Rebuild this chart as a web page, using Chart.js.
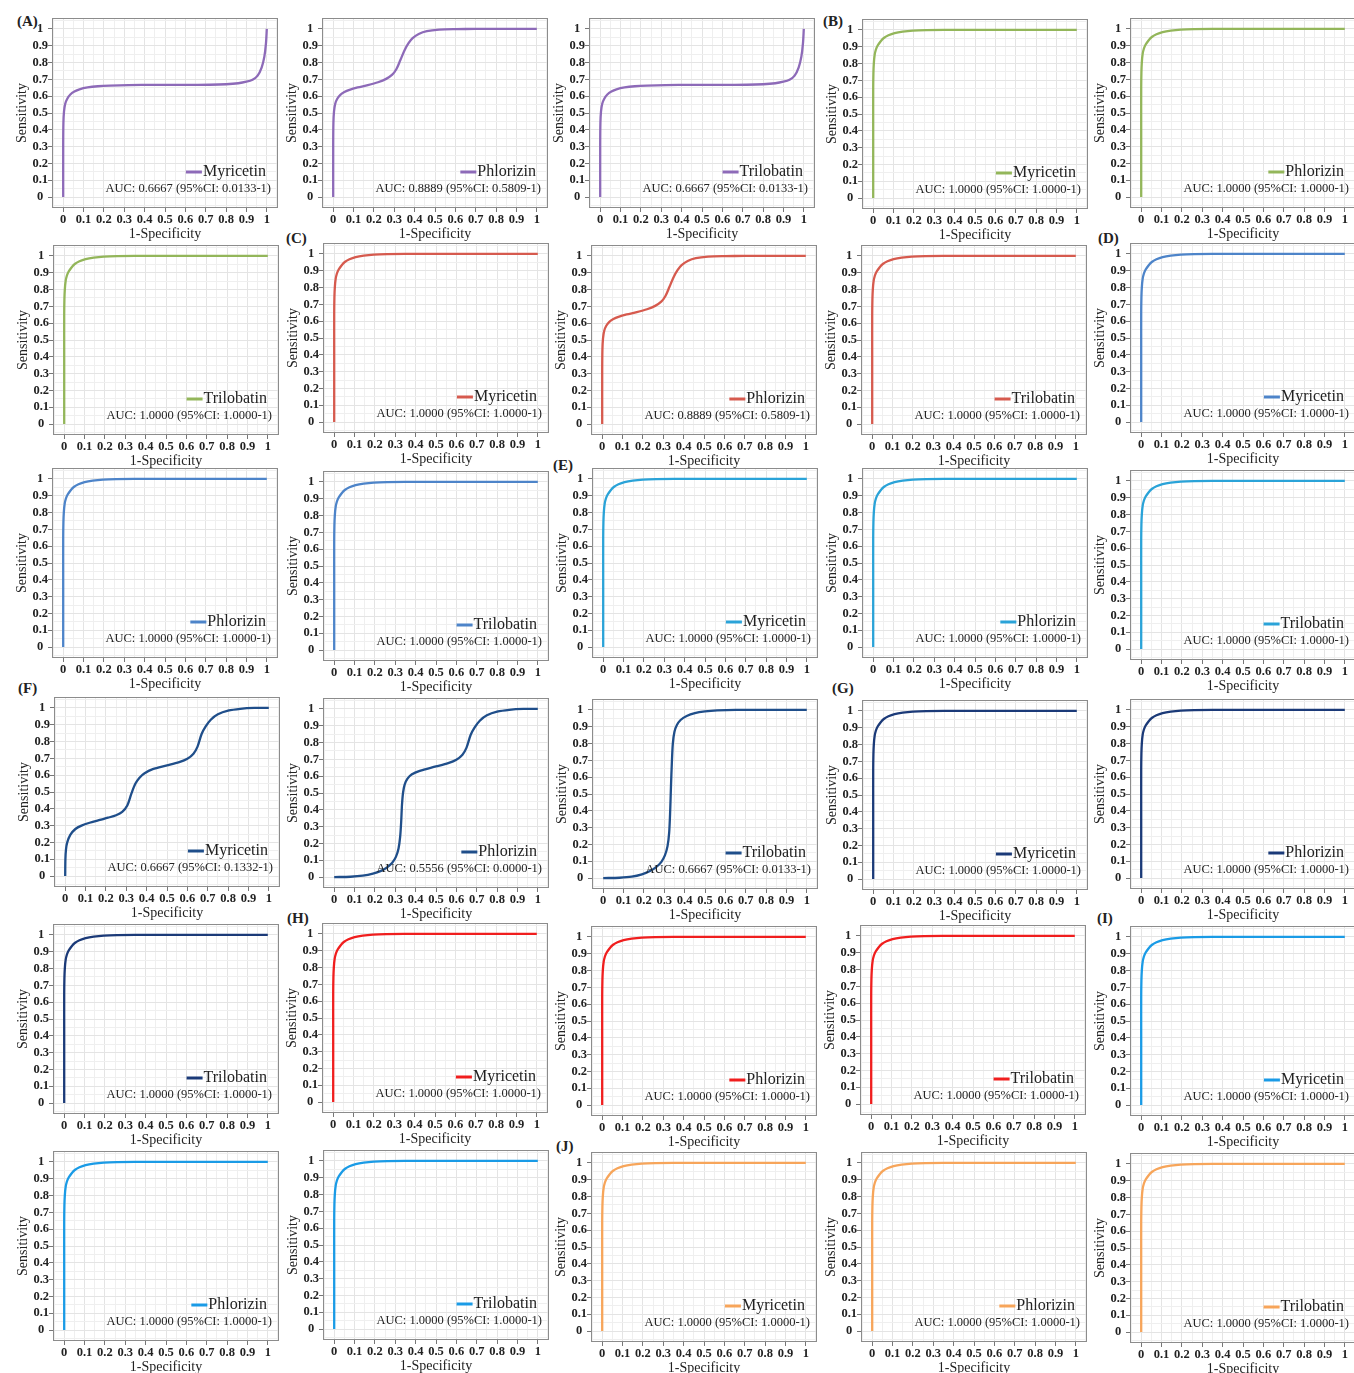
<!DOCTYPE html>
<html>
<head>
<meta charset="utf-8">
<script src="https://cdn.jsdelivr.net/npm/chart.js@4.4.1/dist/chart.umd.min.js"></script>
<style>
  html, body { margin: 0; padding: 0; background: #fff; }
  #fig { position: relative; width: 1354px; height: 1373px; overflow: hidden; background: #fff; }
  #fig canvas { position: absolute; }
  .tag { position: absolute; font: bold 15px "Liberation Serif", "Times New Roman", serif; color: #222; line-height: 1; white-space: nowrap; }
</style>
</head>
<body>
<div id="fig"></div>
<script>
// ---- categories ----
const compounds = ['Myricetin', 'Phlorizin', 'Trilobatin'];
const groups = ['A', 'B', 'C', 'D', 'E', 'F', 'G', 'H', 'I', 'J'];

// ---- AUC and lower 95% CI bound, one per panel (group order, then compound order) ----
const aucValues = [
  0.6667, 0.8889, 0.6667,   // A
  1.0000, 1.0000, 1.0000,   // B
  1.0000, 0.8889, 1.0000,   // C
  1.0000, 1.0000, 1.0000,   // D
  1.0000, 1.0000, 1.0000,   // E
  0.6667, 0.5556, 0.6667,   // F
  1.0000, 1.0000, 1.0000,   // G
  1.0000, 1.0000, 1.0000,   // H
  1.0000, 1.0000, 1.0000,   // I
  1.0000, 1.0000, 1.0000    // J
];
const ciLower = [
  0.0133, 0.5809, 0.0133,
  1.0000, 1.0000, 1.0000,
  1.0000, 0.5809, 1.0000,
  1.0000, 1.0000, 1.0000,
  1.0000, 1.0000, 1.0000,
  0.1332, 0.0000, 0.0133,
  1.0000, 1.0000, 1.0000,
  1.0000, 1.0000, 1.0000,
  1.0000, 1.0000, 1.0000,
  1.0000, 1.0000, 1.0000
];

// ---- smoothed ROC curves (1-specificity, sensitivity) ----
const perfectFpr = [0, 0, 0, 0.001, 0.003, 0.007, 0.013, 0.022, 0.035, 0.052, 0.075, 0.105, 0.145, 0.195, 0.26, 0.35, 0.5, 1];
const perfectTpr = [0, 0.4, 0.65, 0.74, 0.8, 0.85, 0.882, 0.907, 0.93, 0.952, 0.968, 0.981, 0.99, 0.996, 0.999, 1, 1, 1];

const plateauFpr = [0, 0, 0.001, 0.004, 0.01, 0.02, 0.035, 0.055, 0.08, 0.12, 0.17, 0.23, 0.32, 0.45, 0.6, 0.72, 0.8, 0.86, 0.9, 0.93, 0.955, 0.975, 0.988, 0.996, 1];
const plateauTpr = [0, 0.3, 0.44, 0.51, 0.555, 0.585, 0.61, 0.628, 0.641, 0.652, 0.659, 0.663, 0.666, 0.667, 0.667, 0.668, 0.671, 0.677, 0.686, 0.698, 0.722, 0.772, 0.835, 0.915, 1];

const shoulderFpr = [0, 0, 0.001, 0.004, 0.01, 0.02, 0.035, 0.055, 0.08, 0.12, 0.17, 0.22, 0.26, 0.29, 0.31, 0.33, 0.35, 0.37, 0.39, 0.42, 0.46, 0.52, 0.6, 0.7, 1];
const shoulderTpr = [0, 0.3, 0.44, 0.51, 0.555, 0.585, 0.608, 0.625, 0.638, 0.652, 0.666, 0.683, 0.703, 0.728, 0.76, 0.815, 0.872, 0.915, 0.945, 0.97, 0.987, 0.996, 0.999, 1, 1];

const stairFpr = [0, 0.001, 0.004, 0.01, 0.025, 0.05, 0.08, 0.12, 0.17, 0.21, 0.25, 0.28, 0.305, 0.325, 0.345, 0.365, 0.39, 0.43, 0.5, 0.56, 0.6, 0.63, 0.65, 0.67, 0.69, 0.715, 0.75, 0.8, 0.86, 0.93, 1];
const stairTpr = [0, 0.1, 0.16, 0.2, 0.245, 0.28, 0.3, 0.317, 0.334, 0.347, 0.362, 0.382, 0.42, 0.49, 0.55, 0.585, 0.612, 0.636, 0.658, 0.678, 0.698, 0.728, 0.77, 0.845, 0.89, 0.93, 0.962, 0.984, 0.995, 1, 1];

const lateFpr = [0, 0.08, 0.14, 0.19, 0.23, 0.26, 0.285, 0.303, 0.316, 0.324, 0.329, 0.333, 0.338, 0.346, 0.36, 0.38, 0.42, 0.5, 0.56, 0.6, 0.63, 0.65, 0.67, 0.69, 0.715, 0.75, 0.8, 0.86, 0.93, 1];
const lateTpr = [0, 0.002, 0.008, 0.02, 0.037, 0.058, 0.085, 0.12, 0.17, 0.24, 0.33, 0.43, 0.5, 0.55, 0.585, 0.61, 0.632, 0.658, 0.678, 0.698, 0.728, 0.77, 0.845, 0.89, 0.93, 0.962, 0.984, 0.995, 1, 1];

const stepFpr = [0, 0.08, 0.14, 0.19, 0.23, 0.26, 0.285, 0.303, 0.316, 0.324, 0.329, 0.333, 0.337, 0.342, 0.35, 0.362, 0.38, 0.41, 0.45, 0.5, 0.56, 0.65, 1];
const stepTpr = [0, 0.002, 0.008, 0.022, 0.042, 0.065, 0.095, 0.135, 0.19, 0.27, 0.4, 0.55, 0.68, 0.8, 0.87, 0.91, 0.94, 0.964, 0.981, 0.991, 0.997, 1, 1];

// which curve each panel uses
const panelCurve = [
  'plateau', 'shoulder', 'plateau',
  'perfect', 'perfect', 'perfect',
  'perfect', 'shoulder', 'perfect',
  'perfect', 'perfect', 'perfect',
  'perfect', 'perfect', 'perfect',
  'stair', 'late', 'step',
  'perfect', 'perfect', 'perfect',
  'perfect', 'perfect', 'perfect',
  'perfect', 'perfect', 'perfect',
  'perfect', 'perfect', 'perfect'
];

// ---- axis ticks ----
const tickValues = [0, 0.1, 0.2, 0.3, 0.4, 0.5, 0.6, 0.7, 0.8, 0.9, 1];
const tickLabels = ['0', '0.1', '0.2', '0.3', '0.4', '0.5', '0.6', '0.7', '0.8', '0.9', '1'];
const gridValues = [-0.05, 0, 0.05, 0.1, 0.15, 0.2, 0.25, 0.3, 0.35, 0.4, 0.45, 0.5,
                    0.55, 0.6, 0.65, 0.7, 0.75, 0.8, 0.85, 0.9, 0.95, 1, 1.05];

// ---- styling ----
const groupColors = ['#8d6ab8', '#93b65a', '#d65a4e', '#4d84c9', '#2aa3d8',
                     '#1f4e8a', '#1b3a78', '#f01e1e', '#1a9be6', '#f7a55a'];
const serif = '"Liberation Serif", "Times New Roman", serif';

// panel placement: pixel of x=0 and of y=1 for each panel
const originX = [63, 333, 600, 873, 1141, 64, 334, 602, 872, 1141, 63, 334, 603, 873, 1141,
                 65, 334, 603, 873, 1141, 64, 333, 602, 871, 1141, 64, 334, 602, 872, 1141];
const topTickY = [29, 29, 29, 30, 29, 256, 254, 256, 256, 254, 479, 482, 479, 479, 481,
                  708, 709, 710, 711, 710, 935, 934, 937, 936, 937, 1162, 1161, 1163, 1163, 1164];
// group letter placement (left, top)
const tagLeft = [17, 823, 286, 1098, 553, 18, 832, 287, 1097, 556];
const tagTop = [14, 14, 231, 231, 458, 681, 681, 911, 911, 1139];

const curveFpr = { perfect: perfectFpr, plateau: plateauFpr, shoulder: shoulderFpr, stair: stairFpr, late: lateFpr, step: stepFpr };
const curveTpr = { perfect: perfectTpr, plateau: plateauTpr, shoulder: shoulderTpr, stair: stairTpr, late: lateTpr, step: stepTpr };

const near = (a, b) => Math.abs(a - b) < 1e-6;
const majorIndex = v => tickValues.findIndex(t => near(t, v));

// frame, legend key and AUC note inside each panel
const rocNote = {
  id: 'rocNote',
  afterDraw(chart, args, opts) {
    const { ctx, chartArea: a } = chart;
    ctx.save();
    ctx.strokeStyle = '#8c8c8c';
    ctx.lineWidth = 1;
    ctx.strokeRect(a.left + 0.5, a.top + 0.5, a.right - a.left - 1, a.bottom - a.top - 1);

    ctx.fillStyle = '#222';
    ctx.textAlign = 'right';
    ctx.textBaseline = 'middle';
    ctx.font = '16px ' + serif;
    const xr = a.right - 12, yl = a.bottom - 36;
    ctx.fillText(opts.name, xr, yl);
    const w = ctx.measureText(opts.name).width;
    ctx.strokeStyle = opts.color;
    ctx.lineWidth = 3;
    ctx.beginPath();
    ctx.moveTo(xr - w - 17, yl);
    ctx.lineTo(xr - w - 1, yl);
    ctx.stroke();

    ctx.font = '12.5px ' + serif;
    ctx.fillText(opts.note, a.right - 7, a.bottom - 19);
    ctx.restore();
  }
};

function axisOptions(isX) {
  return {
    type: 'linear',
    min: isX ? -0.055 : -0.065,
    max: isX ? 1.055 : 1.065,
    afterFit(scale) { if (isX) scale.height = 40; else scale.width = 52; },
    afterBuildTicks(scale) { scale.ticks = gridValues.map(v => ({ value: v })); },
    ticks: {
      autoSkip: false,
      maxRotation: 0,
      minRotation: 0,
      padding: 0,
      crossAlign: isX ? 'near' : 'center',
      color: '#222',
      font: { family: serif, size: 12.5, weight: 'bold' },
      callback: v => { const k = majorIndex(v); return k >= 0 ? tickLabels[k] : ''; }
    },
    grid: {
      color: c => (c.tick && majorIndex(c.tick.value) >= 0) ? '#e4e4e4' : '#efefef',
      tickColor: c => (c.tick && majorIndex(c.tick.value) >= 0) ? '#777' : 'rgba(0,0,0,0)',
      tickLength: 4,
      lineWidth: 1,
      drawTicks: true
    },
    border: { display: false },
    title: {
      display: true,
      text: isX ? '1-Specificity' : 'Sensitivity',
      color: '#222',
      font: { family: serif, size: 14 },
      padding: isX ? { top: 0, bottom: 5 } : { top: 14, bottom: 0 }
    }
  };
}

const fig = document.getElementById('fig');

groups.forEach((g, k) => {
  const tag = document.createElement('div');
  tag.className = 'tag';
  tag.textContent = '(' + g + ')';
  tag.style.left = tagLeft[k] + 'px';
  tag.style.top = tagTop[k] + 'px';
  fig.appendChild(tag);
});

panelCurve.forEach((key, i) => {
  const g = Math.floor(i / 3), c = i % 3;
  const canvas = document.createElement('canvas');
  canvas.width = 286;
  canvas.height = 244;
  canvas.style.left = (originX[i] - 63) + 'px';
  canvas.style.top = (topTickY[i] - 25) + 'px';
  fig.appendChild(canvas);

  const xs = curveFpr[key], ys = curveTpr[key];
  const points = xs.map((x, j) => ({ x: x, y: ys[j] }));
  const note = 'AUC: ' + aucValues[i].toFixed(4) + ' (95%CI: ' + ciLower[i].toFixed(4) + '-1)';

  new Chart(canvas, {
    type: 'scatter',
    data: {
      datasets: [{
        label: compounds[c],
        data: points,
        showLine: true,
        borderColor: groupColors[g],
        backgroundColor: groupColors[g],
        borderWidth: 2.3,
        pointRadius: 0,
        tension: 0.3,
        fill: false
      }]
    },
    options: {
      responsive: false,
      animation: false,
      devicePixelRatio: 1,
      layout: { padding: { top: 14, right: 8, left: 0, bottom: 0 } },
      plugins: {
        legend: { display: false },
        tooltip: { enabled: false },
        rocNote: { name: compounds[c], note: note, color: groupColors[g] }
      },
      scales: { x: axisOptions(true), y: axisOptions(false) }
    },
    plugins: [rocNote]
  });
});
</script>
</body>
</html>
